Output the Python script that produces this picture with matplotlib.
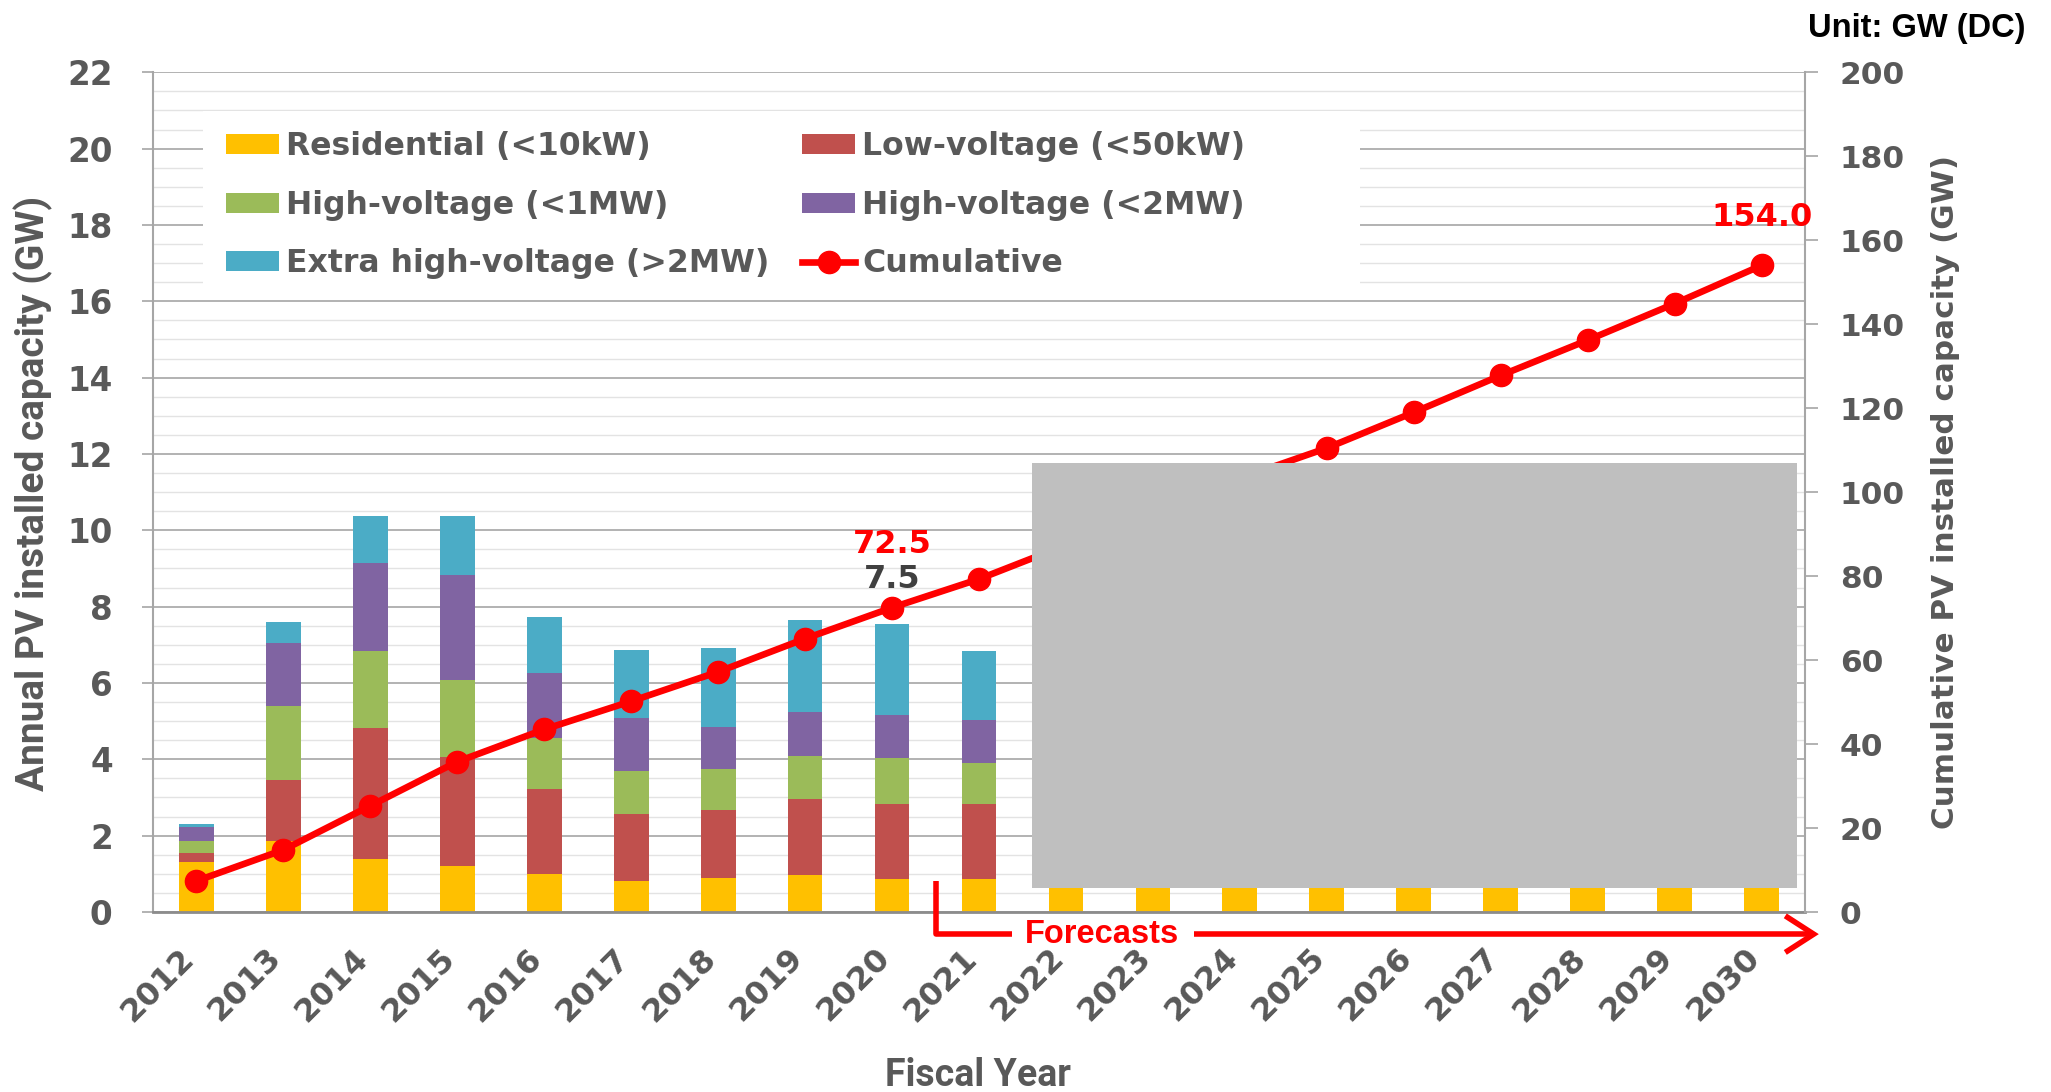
import numpy as np
import matplotlib
matplotlib.use("Agg")
import matplotlib.pyplot as plt
from matplotlib.patches import Rectangle, Patch
from matplotlib.lines import Line2D

# ---- data (GW) ----
years = [str(y) for y in range(2012, 2031)]
nan = np.nan
residential = [1.31, 1.86, 1.38, 1.20, 1.00, 0.81, 0.89, 0.98, 0.86, 0.86,
               0.90, 0.90, 0.90, 0.90, 0.90, 0.90, 0.90, 0.90, 0.90]
low_voltage = [0.24, 1.59, 3.44, 2.86, 2.22, 1.77, 1.77, 1.98, 1.97, 1.97,
               nan, nan, nan, nan, nan, nan, nan, nan, nan]
hv_1mw = [0.30, 1.94, 2.01, 2.01, 1.33, 1.12, 1.08, 1.14, 1.20, 1.07,
          nan, nan, nan, nan, nan, nan, nan, nan, nan]
hv_2mw = [0.38, 1.67, 2.31, 2.76, 1.71, 1.38, 1.11, 1.14, 1.13, 1.13,
          nan, nan, nan, nan, nan, nan, nan, nan, nan]
extra_hv = [0.07, 0.55, 1.23, 1.54, 1.46, 1.79, 2.06, 2.41, 2.38, 1.81,
            nan, nan, nan, nan, nan, nan, nan, nan, nan]
cumulative = [7.4, 14.8, 25.3, 35.8, 43.5, 50.2, 57.2, 65.1, 72.5, 79.3,
              87.4, 95.3, 103.3, 110.5, 119.0, 127.8, 136.2, 144.9, 154.0]

series_labels = ["Residential (<10kW)", "Low-voltage (<50kW)",
                 "High-voltage (<1MW)", "High-voltage (<2MW)",
                 "Extra high-voltage (>2MW)"]
series_colors = ["#FFC000", "#C0504D", "#9BBB59", "#8064A2", "#4BACC6"]
series_values = [residential, low_voltage, hv_1mw, hv_2mw, extra_hv]

GRAY_TXT = "#595959"
RED = "#FF0000"
W, H = 2051, 1092

fig = plt.figure(figsize=(W / 100, H / 100), dpi=100)
ax = fig.add_axes([153 / W, 1 - 912 / H, (1805 - 153) / W, (912 - 72.3) / H])
ax2 = ax.twinx()

x = np.arange(len(years))

# stacked bars
bottom = np.zeros(len(years))
bar_handles = []
for vals, color, label in zip(series_values, series_colors, series_labels):
    v = np.array(vals, dtype=float)
    ax.bar(x, v, 0.40, bottom=bottom, color=color, linewidth=0, zorder=2)
    bar_handles.append(Patch(facecolor=color, edgecolor="none", label=label))
    bottom = bottom + np.nan_to_num(v)

# left axis
ax.set_xlim(-0.5, len(years) - 0.5)
ax.set_ylim(0, 22)
ax.set_yticks(np.arange(0, 22.1, 2))
ax.set_yticks(np.arange(0, 22.1, 0.5), minor=True)
ax.set_axisbelow(True)
ax.grid(which="minor", axis="y", color="#E3E3E3", linewidth=1.0)
ax.grid(which="major", axis="y", color="#A6A6A6", linewidth=1.2)
ax.tick_params(axis="y", which="minor", length=0)
ax.tick_params(axis="y", which="major", direction="out", length=8, width=1.2,
               color="#A6A6A6", pad=21, labelsize=23.5, labelcolor=GRAY_TXT)
for lbl in ax.get_yticklabels():
    lbl.set_fontweight("bold")
ax.set_xticks(x + 0.05)
ax.set_xticklabels(years, rotation=45, ha="right", va="top",
                   fontsize=23, fontweight="bold", color=GRAY_TXT)
ax.tick_params(axis="x", length=0, pad=22)
for s in ["top", "right"]:
    ax.spines[s].set_visible(False)
ax.spines["left"].set_color("#A6A6A6")
ax.spines["left"].set_linewidth(1.5)
ax.spines["bottom"].set_color("#8C8C8C")
ax.spines["bottom"].set_linewidth(2)
ax.spines["bottom"].set_zorder(3)

# cumulative line on right axis
ax2.plot(x, cumulative, color=RED, linewidth=4.8, marker="o",
         markersize=16, zorder=3, label="Cumulative")
ax2.set_ylim(0, 200)
ax2.set_yticks(np.arange(0, 201, 20))
ax2.tick_params(axis="y", direction="out", length=9, width=1.2, color="#A6A6A6",
                pad=16, labelsize=22.5, labelcolor=GRAY_TXT)
for lbl in ax2.get_yticklabels():
    lbl.set_fontweight("bold")
for s in ["top", "left", "bottom"]:
    ax2.spines[s].set_visible(False)
ax2.spines["right"].set_color("#A6A6A6")
ax2.spines["right"].set_linewidth(1.5)

# value labels
i2020 = years.index("2020")
total_2020 = sum(np.nan_to_num(v[i2020]) for v in series_values)
ax2.annotate(f"{cumulative[i2020]:.1f}", (x[i2020], cumulative[i2020]),
             xytext=(0, 63), textcoords="offset pixels", ha="center", va="center",
             fontsize=23, fontweight="bold", color=RED, zorder=6)
ax2.annotate(f"{total_2020:.1f}", (x[i2020], cumulative[i2020]),
             xytext=(0, 28), textcoords="offset pixels", ha="center", va="center",
             fontsize=23, fontweight="bold", color="#404040", zorder=6)
ax2.annotate(f"{cumulative[-1]:.1f}", (x[-1], cumulative[-1]),
             xytext=(0, 48), textcoords="offset pixels", ha="center", va="center",
             fontsize=23, fontweight="bold", color=RED, zorder=6)

# grey panel over the forecast period
ax2.add_patch(Rectangle((9.609, 0.637), 18.407 - 9.609, 11.77 - 0.637,
                        transform=ax.transData, facecolor="#BFBFBF",
                        edgecolor="none", zorder=10))

# legend with white backing
ax2.add_patch(Rectangle((203 / W, 1 - 290 / H), (1360 - 203) / W, (290 - 111) / H,
                        transform=fig.transFigure, facecolor="white",
                        edgecolor="none", zorder=4))
leg_handles = [bar_handles[0], bar_handles[2], bar_handles[4],
               bar_handles[1], bar_handles[3],
               Line2D([], [], color=RED, linewidth=4.8, marker="o", markersize=16)]
leg_labels = [series_labels[0], series_labels[2], series_labels[4],
              series_labels[1], series_labels[3], "Cumulative"]
leg = ax2.legend(leg_handles, leg_labels, ncol=2, loc="upper left",
                 bbox_to_anchor=(225.7 / W, 1 - 131 / H),
                 bbox_transform=fig.transFigure, frameon=False,
                 prop={"family": "DejaVu Sans", "weight": "bold", "size": 22.7},
                 labelcolor=GRAY_TXT, handlelength=1.68, handleheight=0.61,
                 handletextpad=0.22, columnspacing=1.05, labelspacing=0.88,
                 borderaxespad=0, borderpad=0)
leg.set_zorder(6)

# forecast bracket and arrow
fc_y = -0.58
ax.plot([8.5, 8.5, 9.376], [0.82, fc_y, fc_y], color=RED, linewidth=4,
        clip_on=False, solid_capstyle="butt", solid_joinstyle="round", zorder=5)
ax.plot([11.47, 18.6], [fc_y, fc_y], color=RED, linewidth=4,
        clip_on=False, solid_capstyle="butt", zorder=5)
ax.plot([18.3, 18.6, 18.3], [fc_y + 0.44, fc_y, fc_y - 0.44], color=RED,
        linewidth=4, clip_on=False, solid_joinstyle="miter", zorder=5)
ax.text(10.42, fc_y, "Forecasts", ha="center", va="center", color=RED,
        fontsize=23.5, fontweight="bold", family=["Liberation Sans", "DejaVu Sans"])

# axis titles and unit note
fig.text(33 / W, 1 - 493 / H, "Annual PV installed capacity (GW)", rotation=90,
         ha="center", va="center", fontsize=28, fontweight="bold", color=GRAY_TXT,
         family=["Roboto", "DejaVu Sans"])
fig.text(1945 / W, 1 - 492 / H, "Cumulative PV installed capacity (GW)", rotation=90,
         ha="center", va="center", fontsize=22.3, fontweight="bold", color=GRAY_TXT)
fig.text(978 / W, 1 - 1075 / H, "Fiscal Year", ha="center", va="center",
         fontsize=27, fontweight="bold", color=GRAY_TXT,
         family=["Roboto", "DejaVu Sans"])
fig.text(2025 / W, 1 - 28 / H, "Unit: GW (DC)", ha="right", va="center",
         fontsize=23.5, fontweight="bold", color="black",
         family=["Liberation Sans", "DejaVu Sans"])

fig.savefig("out.png", dpi=100, facecolor="white")
